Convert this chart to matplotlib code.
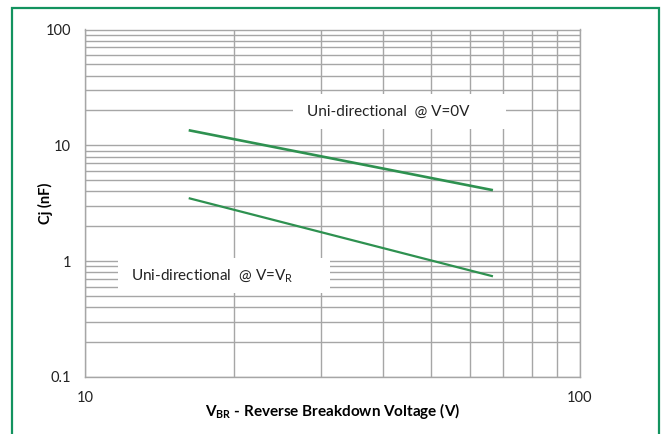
import matplotlib
matplotlib.use("Agg")
import matplotlib.pyplot as plt
from matplotlib.patches import Rectangle
from matplotlib.ticker import FixedLocator, NullFormatter

# Data
vbr = [16.2, 66.7]
cj_v0 = [13.5, 4.1]
cj_vr = [3.5, 0.74]
xticks = [10, 100]
xtick_labels = ["10", "100"]
yticks = [0.1, 1, 10, 100]
ytick_labels = ["0.1", "1", "10", "100"]
label_v0 = "Uni-directional  @ V=0V"
label_vr = r"Uni-directional  @ V=V$_\mathregular{R}$"

plt.rcParams['font.family'] = ['Lato', 'DejaVu Sans']
plt.rcParams['mathtext.fontset'] = 'custom'
plt.rcParams['mathtext.rm'] = 'Lato'
plt.rcParams['mathtext.bf'] = 'Lato:bold'

W, H = 661, 434
fig = plt.figure(figsize=(W / 100, H / 100), dpi=100)
fig.patch.set_facecolor('white')

# green frame (open at bottom)
border = Rectangle((12 / W, -0.05), (659 - 12) / W, 1 - 8 / H + 0.05,
                   transform=fig.transFigure, fill=False,
                   edgecolor='#13935f', linewidth=1.6, zorder=0)
fig.patches.append(border)

ax = fig.add_axes([85 / W, 1 - 377 / H, (580 - 85) / W, (377 - 29.5) / H])
ax.set_xscale('log')
ax.set_yscale('log')
ax.set_xlim(10, 100)
ax.set_ylim(0.1, 100)

grid_c = '#a6a6a6'
ax.set_xticks(xticks)
ax.set_xticklabels(xtick_labels)
ax.set_yticks(yticks)
ax.set_yticklabels(ytick_labels)
ax.xaxis.set_minor_locator(FixedLocator([v * 10 for v in range(2, 10)]))
ax.yaxis.set_minor_locator(FixedLocator([m * d for d in (0.1, 1, 10) for m in range(2, 10)]))
ax.xaxis.set_minor_formatter(NullFormatter())
ax.yaxis.set_minor_formatter(NullFormatter())
ax.tick_params(which='both', length=0)
ax.tick_params(axis='x', pad=10, labelsize=10.5, colors='#222222')
ax.tick_params(axis='y', pad=10, labelsize=10.5, colors='#222222')
ax.grid(True, which='both', color=grid_c, linewidth=1.0)
ax.set_axisbelow(True)
for s in ax.spines.values():
    s.set_color(grid_c)
    s.set_linewidth(1.0)

green = '#2e9150'
ax.plot(vbr, cj_v0, color=green, linewidth=1.9, zorder=3, solid_capstyle='butt')
ax.plot(vbr, cj_vr, color=green, linewidth=1.6, zorder=3, solid_capstyle='butt')

# label boxes
ax.add_patch(Rectangle((293 / W, 1 - 129 / H), (506 - 293) / W, (129 - 94) / H,
                       transform=fig.transFigure, facecolor='white', edgecolor='none', zorder=2))
fig.text(307 / W, 1 - 112 / H, label_v0, fontsize=11, va='center', ha='left', color='#222222', zorder=5)
ax.add_patch(Rectangle((118 / W, 1 - 293 / H), (330 - 118) / W, (293 - 258) / H,
                       transform=fig.transFigure, facecolor='white', edgecolor='none', zorder=2))
fig.text(131 / W, 1 - 276 / H, label_vr, fontsize=11, va='center', ha='left', color='#222222', zorder=5)

ax.set_ylabel("Cj (nF)", fontsize=10.5, fontweight='bold')
ax.yaxis.set_label_coords((45 - 85) / 495, 0.5)
ax.set_xlabel(r"V$_\mathbf{BR}$ - Reverse Breakdown Voltage (V)", fontsize=11, fontweight='bold')
ax.xaxis.set_label_coords(0.5, (377 - 411) / 347.5)
ax.xaxis.label.set_va('center')
ax.yaxis.label.set_va('center')

fig.savefig("out.png", dpi=100)
